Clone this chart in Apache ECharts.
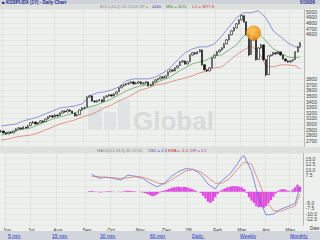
<!DOCTYPE html>
<html><head><meta charset="utf-8">
<script src="https://cdn.jsdelivr.net/npm/echarts@6/dist/echarts.min.js"></script>
<style>html,body{margin:0;padding:0;background:#eceeec}#c{width:320px;height:240px}</style>
</head><body><div id="c"></div>
<script>
// ---- data ----
// daily candles sampled (open, close, low, high)
const ohlc = [
[2860,2875,2845,2895],[2875,2840,2830,2885],[2845,2820,2805,2850],[2825,2855,2815,2865],[2855,2840,2825,2870],
[2840,2875,2835,2885],[2875,2910,2870,2925],[2910,2930,2900,2945],[2930,2910,2895,2940],[2910,2945,2905,2960],
[2945,2930,2915,2955],[2930,2965,2925,2980],[2970,3020,2965,3035],[3020,3035,3005,3055],[3035,3000,2990,3045],
[3000,3020,2990,3035],[3020,3055,3015,3070],[3055,3035,3020,3065],[3040,3090,3035,3100],[3090,3125,3080,3140],
[3125,3145,3115,3160],[3145,3125,3110,3155],[3125,3160,3120,3175],[3160,3145,3130,3170],[3150,3195,3145,3210],
[3195,3230,3185,3245],[3230,3215,3200,3240],[3215,3250,3210,3265],[3250,3230,3215,3260],[3230,3195,3180,3235],
[3195,3145,3130,3200],[3145,3160,3135,3175],[3165,3250,3160,3260],[3250,3285,3240,3300],[3285,3285,3265,3305],
[3300,3480,3295,3495],[3480,3500,3465,3520],[3500,3410,3395,3505],[3410,3395,3380,3425],[3395,3410,3385,3430],
[3410,3430,3400,3445],[3430,3395,3385,3440],[3400,3480,3395,3490],[3480,3500,3470,3515],[3500,3520,3490,3535],
[3520,3500,3485,3530],[3500,3535,3495,3550],[3535,3570,3525,3585],[3575,3645,3570,3655],[3645,3680,3635,3695],
[3680,3695,3670,3710],[3695,3715,3685,3730],[3715,3730,3700,3745],[3730,3750,3720,3765],[3750,3715,3700,3760],
[3715,3730,3705,3745],[3730,3750,3720,3765],[3750,3715,3700,3760],[3715,3730,3705,3745],[3730,3750,3720,3765],
[3750,3680,3665,3755],[3680,3695,3670,3710],[3695,3750,3690,3760],[3750,3785,3740,3800],[3785,3805,3775,3820],
[3805,3840,3795,3855],[3840,3820,3805,3850],[3820,3855,3815,3870],[3860,3930,3855,3940],[3930,3965,3920,3980],
[3965,3945,3930,3975],[3945,4000,3940,4015],[4000,4035,3990,4050],[4040,4105,4035,4120],[4105,4125,4095,4140],
[4125,4070,4055,4130],[4070,4105,4060,4120],[4110,4230,4105,4240],[4230,4270,4220,4285],[4270,4250,4235,4280],
[4250,4285,4245,4300],[4285,4320,4275,4335],[4320,4055,4040,4325],[4055,3965,3950,4070],[3965,3945,3925,3980],
[3945,4000,3940,4015],[4000,4180,3995,4190],[4180,4230,4170,4245],[4230,4285,4220,4300],[4285,4320,4275,4335],
[4320,4355,4310,4370],[4355,4430,4350,4445],[4430,4500,4420,4515],[4500,4590,4490,4605],[4590,4660,4580,4675],
[4660,4715,4650,4730],[4715,4785,4705,4800],[4785,4855,4775,4870],[4855,4930,4845,4950],[4930,4820,4805,4940],
[4820,4590,4575,4830],[4590,4230,4210,4600],[4240,4500,4230,4520],[4500,4535,4480,4580],[4535,4145,4130,4545],
[4150,4355,4140,4370],[4355,4410,4340,4430],[4410,4145,4130,4420],[4145,3875,3850,4160],[3880,4215,3870,4225],
[4215,4230,4200,4245],[4230,4270,4220,4285],[4270,4250,4235,4280],[4250,4285,4245,4300],[4285,4230,4215,4290],
[4230,4160,4145,4235],[4160,4125,4110,4170],[4125,4105,4090,4135],[4105,4125,4095,4140],[4125,4145,4115,4160],
[4150,4285,4145,4295],[4285,4375,4275,4390],[4375,4445,4365,4460]
];
// Bollinger bands [dayIndex, value]
const upperBand = [[0,2964],[3,2982],[6,3000],[9,3054],[12,3089],[15,3125],[18,3179],[21,3232],[24,3286],[27,3304],[30,3321],[33,3357],[36,3500],[39,3554],[42,3571],[45,3607],[48,3661],[51,3768],[54,3804],[57,3804],[60,3804],[63,3839],[66,3911],[69,4000],[72,4143],[75,4268],[78,4339],[81,4375],[84,4375],[87,4429],[90,4571],[93,4732],[96,4893],[99,4982],[102,4982],[105,5018],[108,4893],[111,4661],[114,4554],[117,4446],[120,4375],[122,4357]];
const midBand = [[0,2804],[3,2839],[6,2875],[9,2911],[12,2929],[15,2982],[18,3036],[21,3089],[24,3125],[27,3161],[30,3196],[33,3250],[36,3304],[39,3339],[42,3393],[45,3446],[48,3518],[51,3589],[54,3643],[57,3679],[60,3696],[63,3732],[66,3786],[69,3839],[72,3929],[75,4000],[78,4071],[81,4107],[84,4143],[87,4214],[90,4232],[93,4321],[96,4411],[99,4571],[102,4643],[105,4625],[108,4482],[111,4339],[114,4268],[117,4196],[120,4179],[122,4196]];
const lowerBand = [[0,2714],[3,2732],[6,2768],[9,2786],[12,2804],[15,2839],[18,2893],[21,2946],[24,3000],[27,3036],[30,3071],[33,3125],[36,3161],[39,3214],[42,3286],[45,3339],[48,3411],[51,3464],[54,3536],[57,3607],[60,3643],[63,3696],[66,3714],[69,3750],[72,3786],[75,3821],[78,3857],[81,3911],[84,3946],[87,4000],[90,4018],[93,4125],[96,4232],[99,4321],[102,4393],[105,4286],[108,4036],[111,4018],[114,4054],[117,4054],[120,4036],[122,3982]];
// MACD
const macdDif = [[36,7.9],[39,6.1],[42,6.6],[45,6.1],[48,5.3],[51,7.5],[54,7.0],[57,6.1],[60,3.9],[63,2.2],[66,3.9],[69,7.0],[72,9.2],[75,10.5],[78,10.1],[81,7.9],[84,3.5],[87,1.3],[90,5.3],[93,7.9],[96,12.3],[98,15.8],[99,16.2],[102,9.2],[105,-3.1],[108,-10.5],[111,-10.1],[114,-7.9],[117,-6.6],[120,-5.3],[122,2.3]];
const macdSignal = [[36,7.0],[39,6.8],[42,6.5],[45,6.3],[48,6.0],[51,6.3],[54,6.8],[57,6.6],[60,5.5],[63,4.0],[66,3.5],[69,5.5],[72,7.5],[75,9.5],[78,10.0],[81,9.0],[84,6.5],[87,3.8],[90,4.0],[93,6.0],[96,10.0],[99,13.5],[102,12.5],[105,4.5],[108,-4.0],[111,-8.5],[114,-8.8],[117,-7.5],[120,-6.5],[122,-1.0]];
const oscStart = 35;
const oscValues = [0.3,0.4,0.2,0.1,-0.2,-0.3,-0.1,0.2,0.3,0.2,0.1,
0.0,-0.1,-0.2,0.2,0.4,0.5,0.4,0.3,0.2,0.0,-0.1,
-0.3,-0.6,-1.0,-1.5,-2.0,-1.8,-1.2,-0.4,0.4,0.6,0.9,1.3,1.8,2.0,2.2,2.3,2.0,2.2,2.1,1.8,1.4,1.0,0.5,0.0,-0.5,-1.8,-3.0,-4.5,-5.0,-4.2,-2.5,-1.0,0.3,1.0,1.5,2.0,2.2,2.5,2.6,2.5,2.3,2.0,1.2,-0.5,-2.5,-4.0,-5.0,-6.5,-7.0,-6.8,-7.2,-6.5,-5.0,-3.8,-2.2,-0.8,0.5,1.0,1.2,1.0,0.5,0.2,1.0,2.0,3.2,2.3];
// month ticks: [label, dayIndex]
const monthTicks = [['Jun',1],['Jul',11],['Aug',22],['Sep',34],['Oct',44],['Nov',56],['Dec',67],["'06",76],['Feb',88],['Mar',98],['Apr',108],['May',118]];
const links = ['5 min','15 min','30 min','60 min','Daily','Weekly','Monthly'];
const priceBoxes = {close:4440, mid:4196, low:3977};
const macdBoxes = {osc:2.3, ema:-1.0};

// ---- build ----
const N = ohlc.length + 1;
const cats = Array.from({length:N},(_,i)=>String(i));
const tickMap = {}; monthTicks.forEach(([l,i])=>tickMap[i]=l);
const isTick = i => tickMap[i] !== undefined;
const osc = oscValues.map((v,i)=>[oscStart+i, v]);
const FONT = 'Liberation Sans, Arial, sans-serif';
const near = (v, arr, d) => arr.some(b => Math.abs(b - v) < d);

const chart = echarts.init(document.getElementById('c'), null, {renderer:'svg'});
const xBase = (gi, showLabel) => ({
  type:'category', data:cats, gridIndex:gi, boundaryGap:true,
  axisLine:{show:false}, axisTick:{show:false},
  axisLabel: showLabel ? {show:true, interval:(i)=>isTick(i), formatter:(v,i)=>tickMap[i]||'', fontSize:5, color:'#333', fontFamily:FONT, margin:2} : {show:false},
  splitLine:{show:true, interval:(i)=>isTick(i), lineStyle:{color:'#d6dad6', width:0.6}}
});
const boxLabel = (bg) => ({show:true, position:'end', distance:1, backgroundColor:bg, color:'#fff', fontSize:4.6, fontFamily:FONT, padding:[0,1], formatter:(p)=>String(p.value)});

chart.setOption({
  backgroundColor:'#eef0ee',
  animation:false,
  grid:[
    {left:0, right:10, top:9, height:137.4},
    {left:0, right:10, top:153, height:72}
  ],
  xAxis:[xBase(0,false), xBase(1,true)],
  yAxis:[
    {type:'value', gridIndex:0, position:'right', min:2600, max:5050, interval:100,
     axisLine:{show:true, lineStyle:{color:'#999', width:0.6}}, axisTick:{show:false},
     axisLabel:{showMinLabel:false, showMaxLabel:false, fontSize:5, color:'#444', fontFamily:FONT, margin:2,
       formatter:(v)=> near(v,[priceBoxes.close,priceBoxes.mid,priceBoxes.low],106) ? '' : String(v)},
     splitLine:{lineStyle:{color:'#dde0dd', width:0.6}}},
    {type:'value', gridIndex:1, position:'right', min:-15, max:17.5, interval:2.5,
     axisLine:{show:true, lineStyle:{color:'#999', width:0.6}}, axisTick:{show:false},
     axisLabel:{showMinLabel:false, showMaxLabel:false, fontSize:5, color:'#444', fontFamily:FONT, margin:2,
       formatter:(v)=> near(v,[macdBoxes.osc,macdBoxes.ema],2.8) ? '' : v.toFixed(1)},
     splitLine:{lineStyle:{color:'#dde0dd', width:0.6}}}
  ],
  graphic:[
    {type:'rect', shape:{x:0,y:0,width:320,height:4}, style:{fill:'#cfd2da'}, z:10},
    {type:'text', x:2, y:0, style:{text:'■ KOSPI.IDX (1Y) - Daily Chart', fontSize:4.5, fill:'#1a2a8a', fontFamily:FONT, fontWeight:'bold'}, z:11},
    {type:'text', x:300, y:0, style:{text:'5/16/06', fontSize:4.5, fill:'#1a2a8a', fontFamily:FONT, fontWeight:'bold'}, z:11},
    {type:'rect', shape:{x:0,y:4,width:320,height:5}, style:{fill:'#dde0dd'}, z:10},
    {type:'text', x:100, y:4.8, style:{text:'BOLL(20,2) 1D 12:00 UP =', fontSize:4, fill:'#888', fontFamily:FONT}, z:11},
    {type:'text', x:152, y:4.8, style:{text:'4440', fontSize:4, fill:'#3344bb', fontFamily:FONT}, z:11},
    {type:'text', x:166, y:4.8, style:{text:'MID = 4570', fontSize:4, fill:'#2a8a3a', fontFamily:FONT}, z:11},
    {type:'text', x:192, y:4.8, style:{text:'LO = 3977.6', fontSize:4, fill:'#cc3333', fontFamily:FONT}, z:11},
    {type:'rect', shape:{x:0,y:147,width:320,height:6}, style:{fill:'#dde0dd'}, z:10},
    {type:'text', x:97, y:148.3, style:{text:'MACD(12,26,9) 1D 12:00', fontSize:4, fill:'#888', fontFamily:FONT}, z:11},
    {type:'text', x:148, y:148.3, style:{text:'OSC = 2.3', fontSize:4, fill:'#4444bb', fontFamily:FONT}, z:11},
    {type:'text', x:168, y:148.3, style:{text:'EMA = -1.0', fontSize:4, fill:'#cc3333', fontFamily:FONT}, z:11},
    {type:'text', x:190, y:148.3, style:{text:'DIF = 2.2', fontSize:4, fill:'#aa44aa', fontFamily:FONT}, z:11},
    {type:'text', x:310, y:226, style:{text:'Date', fontSize:4.5, fill:'#333', fontFamily:FONT}, z:11},
    {type:'rect', shape:{x:0,y:231,width:320,height:9}, style:{fill:'#d2d6dc'}, z:10},
    // watermark
    {type:'rect', shape:{x:88,y:106,width:14,height:24}, style:{fill:'#dfe3e3'}, z:1},
    {type:'rect', shape:{x:104,y:112,width:12,height:18}, style:{fill:'#dfe3e3'}, z:1},
    {type:'rect', shape:{x:118,y:100,width:12,height:30}, style:{fill:'#dfe3e3'}, z:1},
    {type:'text', x:133, y:108, style:{text:'Global', fontSize:26, fill:'#d6dbdb', fontFamily:FONT, fontWeight:'bold'}, z:1}
  ].concat(links.map((t,k)=>({type:'text', x:[8,52,100,150,192,240,290][k], y:233, style:{text:t, fontSize:5, fill:'#2233cc', fontFamily:FONT}, z:11})))
   .concat(links.map((t,k)=>({type:'rect', shape:{x:[8,52,100,150,192,240,290][k], y:238.5, width:t.length*2.6, height:0.4}, style:{fill:'#2233cc'}, z:11}))),
  series:[
    {type:'line', xAxisIndex:0, yAxisIndex:0, data:upperBand, symbol:'none', lineStyle:{color:'#6a6ed0', width:0.7}, z:3},
    {type:'line', xAxisIndex:0, yAxisIndex:0, data:midBand, symbol:'none', lineStyle:{color:'#4e9e4e', width:0.7}, z:3,
     markLine:{silent:true, symbol:'none', lineStyle:{opacity:0}, label:boxLabel('#2f9a3f'), data:[{yAxis:priceBoxes.mid}]}},
    {type:'line', xAxisIndex:0, yAxisIndex:0, data:lowerBand, symbol:'none', lineStyle:{color:'#d8705f', width:0.7}, z:3,
     markLine:{silent:true, symbol:'none', lineStyle:{opacity:0}, label:boxLabel('#dd2a2a'), data:[{yAxis:priceBoxes.low}]}},
    {type:'candlestick', xAxisIndex:0, yAxisIndex:0, data:ohlc, barWidth:1.9, z:4,
     itemStyle:{color:'#ffffff', color0:'#111111', borderColor:'#111111', borderColor0:'#111111', borderWidth:0.6},
     markPoint:{silent:true, symbol:'circle', symbolSize:15, data:[{coord:['103',4620]}],
       itemStyle:{color:{type:'radial',x:0.4,y:0.4,r:0.6,colorStops:[{offset:0,color:'#ffc24a'},{offset:1,color:'#ee8a10'}]}, opacity:0.85},
       label:{show:false}},
     markLine:{silent:true, symbol:'none', lineStyle:{opacity:0}, label:boxLabel('#2636c8'), data:[{yAxis:priceBoxes.close}]}},
    {type:'bar', xAxisIndex:1, yAxisIndex:1, data:osc, barWidth:'100%', barCategoryGap:'0%', itemStyle:{color:'#e04ce0'}, z:2,
     markLine:{silent:true, symbol:'none', lineStyle:{opacity:0}, label:boxLabel('#2636c8'), data:[{yAxis:macdBoxes.osc}]}},
    {type:'line', xAxisIndex:1, yAxisIndex:1, data:macdDif, symbol:'none', lineStyle:{color:'#5a64c8', width:0.7}, z:3},
    {type:'line', xAxisIndex:1, yAxisIndex:1, data:macdSignal, symbol:'none', lineStyle:{color:'#d07070', width:0.7}, z:3,
     markLine:{silent:true, symbol:'none', lineStyle:{opacity:0}, label:boxLabel('#dd2a2a'), data:[{yAxis:macdBoxes.ema}]}}
  ]
});
</script></body></html>
